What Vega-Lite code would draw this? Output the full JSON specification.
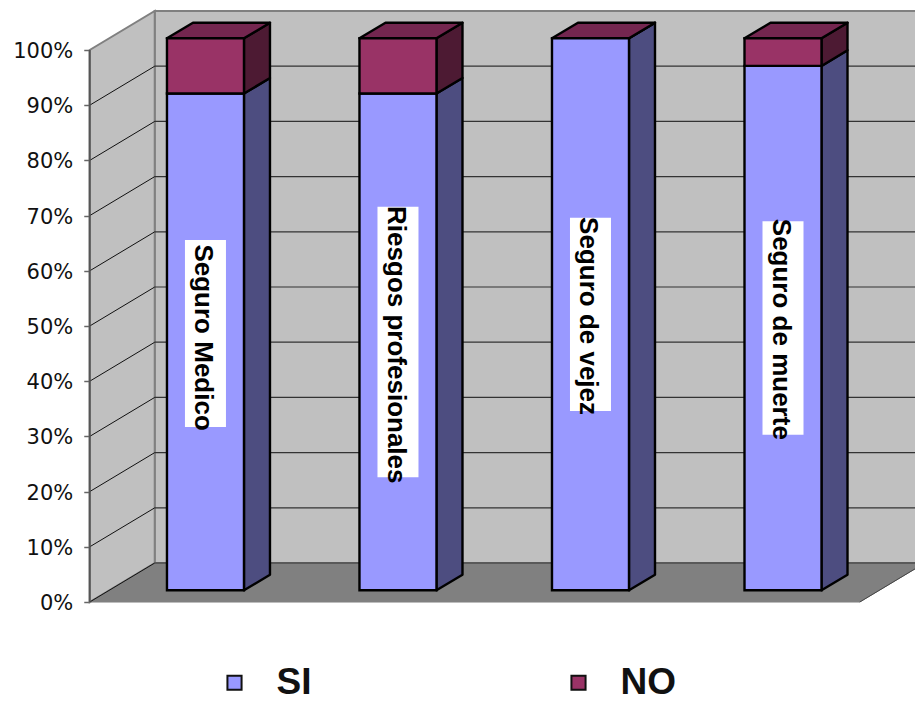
{
  "$schema": "https://vega.github.io/schema/vega-lite/v6.json",
  "width": 915,
  "height": 701,
  "autosize": "none",
  "padding": 0,
  "background": "white",
  "config": {"view": {"stroke": null}},
  "datasets": {
    "barras": [
      {"categoria": "Seguro Medico", "orden": 0, "serie": "SI", "rango": 1, "valor": 90},
      {"categoria": "Seguro Medico", "orden": 0, "serie": "NO", "rango": 2, "valor": 10},
      {"categoria": "Riesgos profesionales", "orden": 1, "serie": "SI", "rango": 1, "valor": 90},
      {"categoria": "Riesgos profesionales", "orden": 1, "serie": "NO", "rango": 2, "valor": 10},
      {"categoria": "Seguro de vejez", "orden": 2, "serie": "SI", "rango": 1, "valor": 100},
      {"categoria": "Seguro de vejez", "orden": 2, "serie": "NO", "rango": 2, "valor": 0},
      {"categoria": "Seguro de muerte", "orden": 3, "serie": "SI", "rango": 1, "valor": 95},
      {"categoria": "Seguro de muerte", "orden": 3, "serie": "NO", "rango": 2, "valor": 5}
    ],
    "etiquetas": [
      {"categoria": "Seguro Medico", "orden": 0, "desde": 31.7, "hasta": 65.6, "centro": 47.9},
      {"categoria": "Riesgos profesionales", "orden": 1, "desde": 22.6, "hasta": 71.6, "centro": 46.6},
      {"categoria": "Seguro de vejez", "orden": 2, "desde": 34.6, "hasta": 69.6, "centro": 51.8},
      {"categoria": "Seguro de muerte", "orden": 3, "desde": 30.3, "hasta": 69.0, "centro": 49.4}
    ],
    "rejilla": [
      {"pct": 0}, {"pct": 10}, {"pct": 20}, {"pct": 30}, {"pct": 40}, {"pct": 50},
      {"pct": 60}, {"pct": 70}, {"pct": 80}, {"pct": 90}, {"pct": 100}
    ],
    "muro": [{"inicio": -0.5, "fin": 3.5, "base": 0, "tope": 100}]
  },
  "resolve": {"scale": {"color": "independent"}},
  "layer": [
    {
      "description": "Pared del fondo",
      "data": {"name": "muro"},
      "transform": [
        {"calculate": "datum.inicio + 0.3377", "as": "xa"},
        {"calculate": "datum.fin + 0.3377", "as": "xb"},
        {"calculate": "datum.base + 7.065", "as": "ya"},
        {"calculate": "datum.tope + 7.065", "as": "yb"}
      ],
      "mark": {"type": "rect", "fill": "#c0c0c0", "stroke": "#808080", "strokeWidth": 2, "clip": true},
      "encoding": {
        "x": {"field": "xa", "type": "quantitative", "scale": {"domain": [-0.966, 3.787], "nice": false, "zero": false}, "axis": null},
        "x2": {"field": "xb"},
        "y": {"field": "ya", "type": "quantitative", "scale": {"domain": [-17.93, 109.06], "nice": false, "zero": false},
          "axis": {"title": null, "offset": -89.75, "values": [0, 10, 20, 30, 40, 50, 60, 70, 80, 90, 100], "labelExpr": "datum.value + '%'", "domain": false, "grid": false, "tickColor": "#666666", "tickWidth": 1.5, "tickSize": 6, "labelFont": "DejaVu Sans", "labelFontSize": 21, "labelOffset": 1.5, "labelColor": "#111111", "labelPadding": 11}},
        "y2": {"field": "yb"}
      }
    },
    {
      "description": "Pared lateral",
      "data": {"name": "muro"},
      "transform": [
        {"calculate": "[0, 1]", "as": "d"},
        {"flatten": ["d"]},
        {"calculate": "datum.inicio + 0.3377 * datum.d", "as": "xa"},
        {"calculate": "datum.base + 7.065 * datum.d", "as": "ya"},
        {"calculate": "datum.tope + 7.065 * datum.d", "as": "yb"}
      ],
      "mark": {"type": "area", "fill": "#c0c0c0", "stroke": "#808080", "strokeWidth": 2},
      "encoding": {
        "x": {"field": "xa", "type": "quantitative", "scale": {"domain": [-0.966, 3.787], "nice": false, "zero": false}, "axis": null},
        "y": {"field": "ya", "type": "quantitative", "stack": null, "scale": {"domain": [-17.93, 109.06], "nice": false, "zero": false},
          "axis": {"title": null, "offset": -89.75, "values": [0, 10, 20, 30, 40, 50, 60, 70, 80, 90, 100], "labelExpr": "datum.value + '%'", "domain": false, "grid": false, "tickColor": "#666666", "tickWidth": 1.5, "tickSize": 6, "labelFont": "DejaVu Sans", "labelFontSize": 21, "labelOffset": 1.5, "labelColor": "#111111", "labelPadding": 11}},
        "y2": {"field": "yb"}
      }
    },
    {
      "description": "Piso",
      "data": {"name": "muro"},
      "transform": [
        {"calculate": "[0, 1]", "as": "d"},
        {"flatten": ["d"]},
        {"calculate": "datum.inicio + 0.3377 * datum.d", "as": "xa"},
        {"calculate": "datum.fin + 0.3377 * datum.d", "as": "xb"},
        {"calculate": "datum.base + 7.065 * datum.d", "as": "ya"}
      ],
      "mark": {"type": "area", "orient": "horizontal", "fill": "#808080", "stroke": "#808080", "strokeWidth": 1, "clip": true},
      "encoding": {
        "x": {"field": "xa", "type": "quantitative", "stack": null, "scale": {"domain": [-0.966, 3.787], "nice": false, "zero": false}, "axis": null},
        "x2": {"field": "xb"},
        "y": {"field": "ya", "type": "quantitative", "scale": {"domain": [-17.93, 109.06], "nice": false, "zero": false},
          "axis": {"title": null, "offset": -89.75, "values": [0, 10, 20, 30, 40, 50, 60, 70, 80, 90, 100], "labelExpr": "datum.value + '%'", "domain": false, "grid": false, "tickColor": "#666666", "tickWidth": 1.5, "tickSize": 6, "labelFont": "DejaVu Sans", "labelFontSize": 21, "labelOffset": 1.5, "labelColor": "#111111", "labelPadding": 11}}
      }
    },
    {
      "description": "Borde derecho del piso",
      "data": {"name": "muro"},
      "transform": [
        {"calculate": "datum.fin + 0.3377", "as": "xb"},
        {"calculate": "datum.base + 7.065", "as": "yb"}
      ],
      "mark": {"type": "rule", "color": "#444444", "strokeWidth": 1, "clip": true},
      "encoding": {
        "x": {"field": "fin", "type": "quantitative", "scale": {"domain": [-0.966, 3.787], "nice": false, "zero": false}, "axis": null},
        "x2": {"field": "xb"},
        "y": {"field": "base", "type": "quantitative", "scale": {"domain": [-17.93, 109.06], "nice": false, "zero": false},
          "axis": {"title": null, "offset": -89.75, "values": [0, 10, 20, 30, 40, 50, 60, 70, 80, 90, 100], "labelExpr": "datum.value + '%'", "domain": false, "grid": false, "tickColor": "#666666", "tickWidth": 1.5, "tickSize": 6, "labelFont": "DejaVu Sans", "labelFontSize": 21, "labelOffset": 1.5, "labelColor": "#111111", "labelPadding": 11}},
        "y2": {"field": "yb"}
      }
    },
    {
      "description": "Lineas de division en la pared del fondo",
      "data": {"name": "rejilla"},
      "transform": [
        {"filter": "datum.pct < 100"},
        {"calculate": "-0.5 + 0.3377", "as": "xa"},
        {"calculate": "3.5 + 0.3377", "as": "xb"},
        {"calculate": "datum.pct + 7.065", "as": "ya"}
      ],
      "mark": {"type": "rule", "color": "#333333", "strokeWidth": 1.2, "clip": true},
      "encoding": {
        "x": {"field": "xa", "type": "quantitative", "scale": {"domain": [-0.966, 3.787], "nice": false, "zero": false}, "axis": null},
        "x2": {"field": "xb"},
        "y": {"field": "ya", "type": "quantitative", "scale": {"domain": [-17.93, 109.06], "nice": false, "zero": false},
          "axis": {"title": null, "offset": -89.75, "values": [0, 10, 20, 30, 40, 50, 60, 70, 80, 90, 100], "labelExpr": "datum.value + '%'", "domain": false, "grid": false, "tickColor": "#666666", "tickWidth": 1.5, "tickSize": 6, "labelFont": "DejaVu Sans", "labelFontSize": 21, "labelOffset": 1.5, "labelColor": "#111111", "labelPadding": 11}}
      }
    },
    {
      "description": "Lineas de division en la pared lateral",
      "data": {"name": "rejilla"},
      "transform": [
        {"filter": "datum.pct < 100"},
        {"calculate": "-0.5", "as": "xa"},
        {"calculate": "-0.5 + 0.3377", "as": "xb"},
        {"calculate": "datum.pct + 7.065", "as": "yb"}
      ],
      "mark": {"type": "rule", "color": "#111111", "strokeWidth": 1},
      "encoding": {
        "x": {"field": "xa", "type": "quantitative", "scale": {"domain": [-0.966, 3.787], "nice": false, "zero": false}, "axis": null},
        "x2": {"field": "xb"},
        "y": {"field": "pct", "type": "quantitative", "scale": {"domain": [-17.93, 109.06], "nice": false, "zero": false},
          "axis": {"title": null, "offset": -89.75, "values": [0, 10, 20, 30, 40, 50, 60, 70, 80, 90, 100], "labelExpr": "datum.value + '%'", "domain": false, "grid": false, "tickColor": "#666666", "tickWidth": 1.5, "tickSize": 6, "labelFont": "DejaVu Sans", "labelFontSize": 21, "labelOffset": 1.5, "labelColor": "#111111", "labelPadding": 11}},
        "y2": {"field": "yb"}
      }
    },
    {
      "description": "Eje vertical frontal",
      "data": {"name": "muro"},
      "mark": {"type": "rule", "color": "#555555", "strokeWidth": 2},
      "encoding": {
        "x": {"field": "inicio", "type": "quantitative", "scale": {"domain": [-0.966, 3.787], "nice": false, "zero": false}, "axis": null},
        "y": {"field": "base", "type": "quantitative", "scale": {"domain": [-17.93, 109.06], "nice": false, "zero": false},
          "axis": {"title": null, "offset": -89.75, "values": [0, 10, 20, 30, 40, 50, 60, 70, 80, 90, 100], "labelExpr": "datum.value + '%'", "domain": false, "grid": false, "tickColor": "#666666", "tickWidth": 1.5, "tickSize": 6, "labelFont": "DejaVu Sans", "labelFontSize": 21, "labelOffset": 1.5, "labelColor": "#111111", "labelPadding": 11}},
        "y2": {"field": "tope"}
      }
    },
    {
      "description": "Cara lateral de cada tramo",
      "data": {"name": "barras"},
      "transform": [
        {"stack": "valor", "groupby": ["orden"], "sort": [{"field": "rango", "order": "ascending"}], "as": ["ini", "fin"]},
        {"calculate": "[0.3, 0.7]", "as": "d"},
        {"flatten": ["d"]},
        {"calculate": "datum.orden + 0.2 + 0.3377 * datum.d", "as": "xa"},
        {"calculate": "datum.ini + 7.065 * datum.d", "as": "ya"},
        {"calculate": "datum.fin + 7.065 * datum.d", "as": "yb"}
      ],
      "mark": {"type": "area", "stroke": "black", "strokeWidth": 2.4, "strokeJoin": "round"},
      "encoding": {
        "x": {"field": "xa", "type": "quantitative", "scale": {"domain": [-0.966, 3.787], "nice": false, "zero": false}, "axis": null},
        "y": {"field": "ya", "type": "quantitative", "stack": null, "scale": {"domain": [-17.93, 109.06], "nice": false, "zero": false},
          "axis": {"title": null, "offset": -89.75, "values": [0, 10, 20, 30, 40, 50, 60, 70, 80, 90, 100], "labelExpr": "datum.value + '%'", "domain": false, "grid": false, "tickColor": "#666666", "tickWidth": 1.5, "tickSize": 6, "labelFont": "DejaVu Sans", "labelFontSize": 21, "labelOffset": 1.5, "labelColor": "#111111", "labelPadding": 11}},
        "y2": {"field": "yb"},
        "detail": {"field": "orden"},
        "color": {"field": "serie", "type": "nominal", "legend": null, "scale": {"domain": ["SI", "NO"], "range": ["#4d4d80", "#4d1a33"]}}
      }
    },
    {
      "description": "Cara superior de cada barra",
      "data": {"name": "barras"},
      "transform": [
        {"stack": "valor", "groupby": ["orden"], "sort": [{"field": "rango", "order": "ascending"}], "as": ["ini", "fin"]},
        {"filter": "datum.serie === 'NO'"},
        {"calculate": "[0.3, 0.7]", "as": "d"},
        {"flatten": ["d"]},
        {"calculate": "datum.orden - 0.2 + 0.3377 * datum.d", "as": "xa"},
        {"calculate": "datum.orden + 0.2 + 0.3377 * datum.d", "as": "xb"},
        {"calculate": "datum.fin + 7.065 * datum.d", "as": "yb"}
      ],
      "mark": {"type": "area", "orient": "horizontal", "fill": "#74264f", "stroke": "black", "strokeWidth": 2.4, "strokeJoin": "round"},
      "encoding": {
        "x": {"field": "xa", "type": "quantitative", "stack": null, "scale": {"domain": [-0.966, 3.787], "nice": false, "zero": false}, "axis": null},
        "x2": {"field": "xb"},
        "y": {"field": "yb", "type": "quantitative", "scale": {"domain": [-17.93, 109.06], "nice": false, "zero": false},
          "axis": {"title": null, "offset": -89.75, "values": [0, 10, 20, 30, 40, 50, 60, 70, 80, 90, 100], "labelExpr": "datum.value + '%'", "domain": false, "grid": false, "tickColor": "#666666", "tickWidth": 1.5, "tickSize": 6, "labelFont": "DejaVu Sans", "labelFontSize": 21, "labelOffset": 1.5, "labelColor": "#111111", "labelPadding": 11}},
        "detail": {"field": "orden"}
      }
    },
    {
      "description": "Cara frontal de cada tramo",
      "data": {"name": "barras"},
      "transform": [
        {"stack": "valor", "groupby": ["orden"], "sort": [{"field": "rango", "order": "ascending"}], "as": ["ini", "fin"]},
        {"filter": "datum.valor > 0"},
        {"calculate": "datum.orden - 0.2 + 0.3377 * 0.3", "as": "xa"},
        {"calculate": "datum.orden + 0.2 + 0.3377 * 0.3", "as": "xb"},
        {"calculate": "datum.ini + 7.065 * 0.3", "as": "ya"},
        {"calculate": "datum.fin + 7.065 * 0.3", "as": "yb"}
      ],
      "mark": {"type": "rect", "stroke": "black", "strokeWidth": 2.4},
      "encoding": {
        "x": {"field": "xa", "type": "quantitative", "scale": {"domain": [-0.966, 3.787], "nice": false, "zero": false}, "axis": null},
        "x2": {"field": "xb"},
        "y": {"field": "ya", "type": "quantitative", "scale": {"domain": [-17.93, 109.06], "nice": false, "zero": false},
          "axis": {"title": null, "offset": -89.75, "values": [0, 10, 20, 30, 40, 50, 60, 70, 80, 90, 100], "labelExpr": "datum.value + '%'", "domain": false, "grid": false, "tickColor": "#666666", "tickWidth": 1.5, "tickSize": 6, "labelFont": "DejaVu Sans", "labelFontSize": 21, "labelOffset": 1.5, "labelColor": "#111111", "labelPadding": 11}},
        "y2": {"field": "yb"},
        "color": {
          "field": "serie",
          "type": "nominal",
          "scale": {"domain": ["SI", "NO"], "range": ["#9999ff", "#993366"]},
          "legend": {
            "title": null,
            "orient": "none",
            "legendX": 216,
            "legendY": 664,
            "columns": 2,
            "columnPadding": 248,
            "symbolType": "square",
            "symbolSize": 200,
            "symbolStrokeColor": "#111111",
            "symbolStrokeWidth": 2,
            "labelFont": "Liberation Sans",
            "labelFontWeight": "bold",
            "labelFontSize": 37,
            "labelColor": "#111111",
            "labelOffset": 23.5,
            "labelLimit": 200
          }
        }
      }
    },
    {
      "description": "Recuadro blanco tras el nombre de cada categoria",
      "data": {"name": "etiquetas"},
      "transform": [
        {"calculate": "datum.orden + 0.1013 - 0.1065", "as": "xa"},
        {"calculate": "datum.orden + 0.1013 + 0.1065", "as": "xb"}
      ],
      "mark": {"type": "rect", "fill": "white"},
      "encoding": {
        "x": {"field": "xa", "type": "quantitative", "scale": {"domain": [-0.966, 3.787], "nice": false, "zero": false}, "axis": null},
        "x2": {"field": "xb"},
        "y": {"field": "desde", "type": "quantitative", "scale": {"domain": [-17.93, 109.06], "nice": false, "zero": false},
          "axis": {"title": null, "offset": -89.75, "values": [0, 10, 20, 30, 40, 50, 60, 70, 80, 90, 100], "labelExpr": "datum.value + '%'", "domain": false, "grid": false, "tickColor": "#666666", "tickWidth": 1.5, "tickSize": 6, "labelFont": "DejaVu Sans", "labelFontSize": 21, "labelOffset": 1.5, "labelColor": "#111111", "labelPadding": 11}},
        "y2": {"field": "hasta"}
      }
    },
    {
      "description": "Nombre de cada categoria en vertical",
      "data": {"name": "etiquetas"},
      "transform": [{"calculate": "datum.orden + 0.09", "as": "xa"}],
      "mark": {"type": "text", "angle": 90, "align": "center", "baseline": "middle", "font": "Liberation Sans", "fontWeight": "bold", "fontSize": 26, "color": "#000000"},
      "encoding": {
        "x": {"field": "xa", "type": "quantitative", "scale": {"domain": [-0.966, 3.787], "nice": false, "zero": false}, "axis": null},
        "y": {"field": "centro", "type": "quantitative", "scale": {"domain": [-17.93, 109.06], "nice": false, "zero": false},
          "axis": {"title": null, "offset": -89.75, "values": [0, 10, 20, 30, 40, 50, 60, 70, 80, 90, 100], "labelExpr": "datum.value + '%'", "domain": false, "grid": false, "tickColor": "#666666", "tickWidth": 1.5, "tickSize": 6, "labelFont": "DejaVu Sans", "labelFontSize": 21, "labelOffset": 1.5, "labelColor": "#111111", "labelPadding": 11}},
        "text": {"field": "categoria", "type": "nominal"}
      }
    }
  ]
}
